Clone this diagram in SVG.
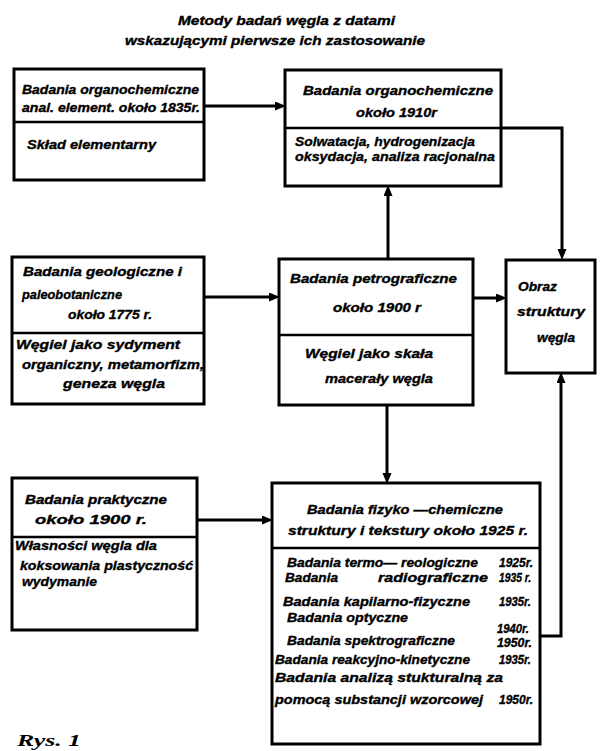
<svg xmlns="http://www.w3.org/2000/svg" width="602" height="751" viewBox="0 0 602 751">
<style>
.box{fill:#fff;stroke:#000;stroke-width:3}
.div{stroke:#000;stroke-width:2.5}
.con{fill:none;stroke:#000;stroke-width:3}
text{font-family:"Liberation Sans",Arial,sans-serif;font-weight:bold;font-style:italic;font-size:13px;fill:#000;stroke:#000;stroke-width:0.35}
.rys{font-family:"Liberation Serif","Times New Roman",serif;font-size:17px;stroke-width:0}
</style>
<defs>
<marker id="ah" markerUnits="userSpaceOnUse" markerWidth="12" markerHeight="10" refX="5" refY="4.5" orient="auto">
<path d="M0,0 L11,4.5 L0,9 Z" fill="#000"/>
</marker>
</defs>
<rect width="602" height="751" fill="#fff"/>
<g id="title">
<text x="178" y="25" textLength="217" lengthAdjust="spacingAndGlyphs">Metody badań węgla z datami</text>
<text x="125" y="45" textLength="300" lengthAdjust="spacingAndGlyphs">wskazującymi pierwsze ich zastosowanie</text>
</g>
<g id="connectors">
<path class="con" d="M204,106 H280" marker-end="url(#ah)"/>
<path class="con" d="M501,128 H562 V254" marker-end="url(#ah)"/>
<path class="con" d="M388,259 V191" marker-end="url(#ah)"/>
<path class="con" d="M204,297 H274" marker-end="url(#ah)"/>
<path class="con" d="M473,298 H501" marker-end="url(#ah)"/>
<path class="con" d="M387,405 V478" marker-end="url(#ah)"/>
<path class="con" d="M197,520 H267" marker-end="url(#ah)"/>
<path class="con" d="M540,636 H561 V378" marker-end="url(#ah)"/>
</g>
<g id="n1">
<rect class="box" x="14" y="69" width="190" height="111"/>
<line class="div" x1="14" y1="122" x2="204" y2="122"/>
<text x="22" y="94" textLength="177" lengthAdjust="spacingAndGlyphs">Badania organochemiczne</text>
<text x="22" y="112" textLength="178" lengthAdjust="spacingAndGlyphs">anal. element. około 1835r.</text>
<text x="27" y="149" textLength="129" lengthAdjust="spacingAndGlyphs">Skład elementarny</text>
</g>
<g id="n2">
<rect class="box" x="285" y="70" width="216" height="116"/>
<line class="div" x1="285" y1="128" x2="501" y2="128"/>
<text x="303" y="95" textLength="190" lengthAdjust="spacingAndGlyphs">Badania organochemiczne</text>
<text x="356" y="117" textLength="81" lengthAdjust="spacingAndGlyphs">około 1910r</text>
<text x="295" y="146" textLength="180" lengthAdjust="spacingAndGlyphs">Solwatacja, hydrogenizacja</text>
<text x="295" y="161" textLength="200" lengthAdjust="spacingAndGlyphs">oksydacja, analiza racjonalna</text>
</g>
<g id="n3">
<rect class="box" x="12" y="257" width="192" height="147"/>
<line class="div" x1="12" y1="333" x2="204" y2="333"/>
<text x="23" y="276" textLength="159" lengthAdjust="spacingAndGlyphs">Badania geologiczne i</text>
<text x="22" y="299" textLength="100" lengthAdjust="spacingAndGlyphs">paleobotaniczne</text>
<text x="68" y="319" textLength="84" lengthAdjust="spacingAndGlyphs">około 1775 r.</text>
<text x="16" y="349" textLength="164" lengthAdjust="spacingAndGlyphs">Węgiel jako sydyment</text>
<text x="22" y="369" textLength="182" lengthAdjust="spacingAndGlyphs">organiczny, metamorfizm,</text>
<text x="63" y="388" textLength="102" lengthAdjust="spacingAndGlyphs">geneza węgla</text>
</g>
<g id="n4">
<rect class="box" x="279" y="259" width="194" height="146"/>
<line class="div" x1="279" y1="335" x2="473" y2="335"/>
<text x="290" y="283" textLength="167" lengthAdjust="spacingAndGlyphs">Badania petrograficzne</text>
<text x="333" y="312" textLength="88" lengthAdjust="spacingAndGlyphs">około 1900 r</text>
<text x="305" y="358" textLength="128" lengthAdjust="spacingAndGlyphs">Węgiel jako skała</text>
<text x="325" y="383" textLength="108" lengthAdjust="spacingAndGlyphs">macerały węgla</text>
</g>
<g id="n5">
<rect class="box" x="506" y="260" width="89" height="113"/>
<text x="518" y="291" textLength="39" lengthAdjust="spacingAndGlyphs">Obraz</text>
<text x="517" y="316" textLength="68" lengthAdjust="spacingAndGlyphs">struktury</text>
<text x="537" y="342" textLength="38" lengthAdjust="spacingAndGlyphs">węgla</text>
</g>
<g id="n6">
<rect class="box" x="12" y="478" width="185" height="152"/>
<line class="div" x1="12" y1="537" x2="197" y2="537"/>
<text x="25" y="504" textLength="142" lengthAdjust="spacingAndGlyphs">Badania praktyczne</text>
<text x="35" y="524" textLength="112" lengthAdjust="spacingAndGlyphs">około 1900 r.</text>
<text x="15" y="550" textLength="142" lengthAdjust="spacingAndGlyphs">Własności węgla dla</text>
<text x="20" y="570" textLength="173" lengthAdjust="spacingAndGlyphs">koksowania plastyczność</text>
<text x="22" y="586" textLength="75" lengthAdjust="spacingAndGlyphs">wydymanie</text>
</g>
<g id="n7">
<rect class="box" x="272" y="483" width="268" height="261"/>
<line class="div" x1="272" y1="548" x2="540" y2="548"/>
<text x="307" y="514" textLength="196" lengthAdjust="spacingAndGlyphs">Badania fizyko —chemiczne</text>
<text x="288" y="535" textLength="240" lengthAdjust="spacingAndGlyphs">struktury i tekstury około 1925 r.</text>
<text x="287" y="567" textLength="191" lengthAdjust="spacingAndGlyphs">Badania termo— reologiczne</text>
<text x="499" y="567" textLength="34" lengthAdjust="spacingAndGlyphs">1925r.</text>
<text x="285" y="582" textLength="53" lengthAdjust="spacingAndGlyphs">Badania</text>
<text x="378" y="582" textLength="110" lengthAdjust="spacingAndGlyphs">radiograficzne</text>
<text x="499" y="582" textLength="32" lengthAdjust="spacingAndGlyphs">1935 r.</text>
<text x="283" y="606" textLength="187" lengthAdjust="spacingAndGlyphs">Badania kapilarno-fizyczne</text>
<text x="499" y="606" textLength="32" lengthAdjust="spacingAndGlyphs">1935r.</text>
<text x="287" y="622" textLength="121" lengthAdjust="spacingAndGlyphs">Badania optyczne</text>
<text x="497" y="633" textLength="32" lengthAdjust="spacingAndGlyphs">1940r.</text>
<text x="287" y="645" textLength="168" lengthAdjust="spacingAndGlyphs">Badania spektrograficzne</text>
<text x="497" y="647" textLength="35" lengthAdjust="spacingAndGlyphs">1950r.</text>
<text x="275" y="664" textLength="195" lengthAdjust="spacingAndGlyphs">Badania reakcyjno-kinetyczne</text>
<text x="499" y="664" textLength="32" lengthAdjust="spacingAndGlyphs">1935r.</text>
<text x="275" y="682" textLength="228" lengthAdjust="spacingAndGlyphs">Badania analizą stukturalną za</text>
<text x="275" y="704" textLength="208" lengthAdjust="spacingAndGlyphs">pomocą substancji wzorcowej</text>
<text x="499" y="704" textLength="34" lengthAdjust="spacingAndGlyphs">1950r.</text>
</g>
<g id="caption">
<text class="rys" x="17" y="746" textLength="64" lengthAdjust="spacingAndGlyphs">Rys. 1</text>
</g>
</svg>
